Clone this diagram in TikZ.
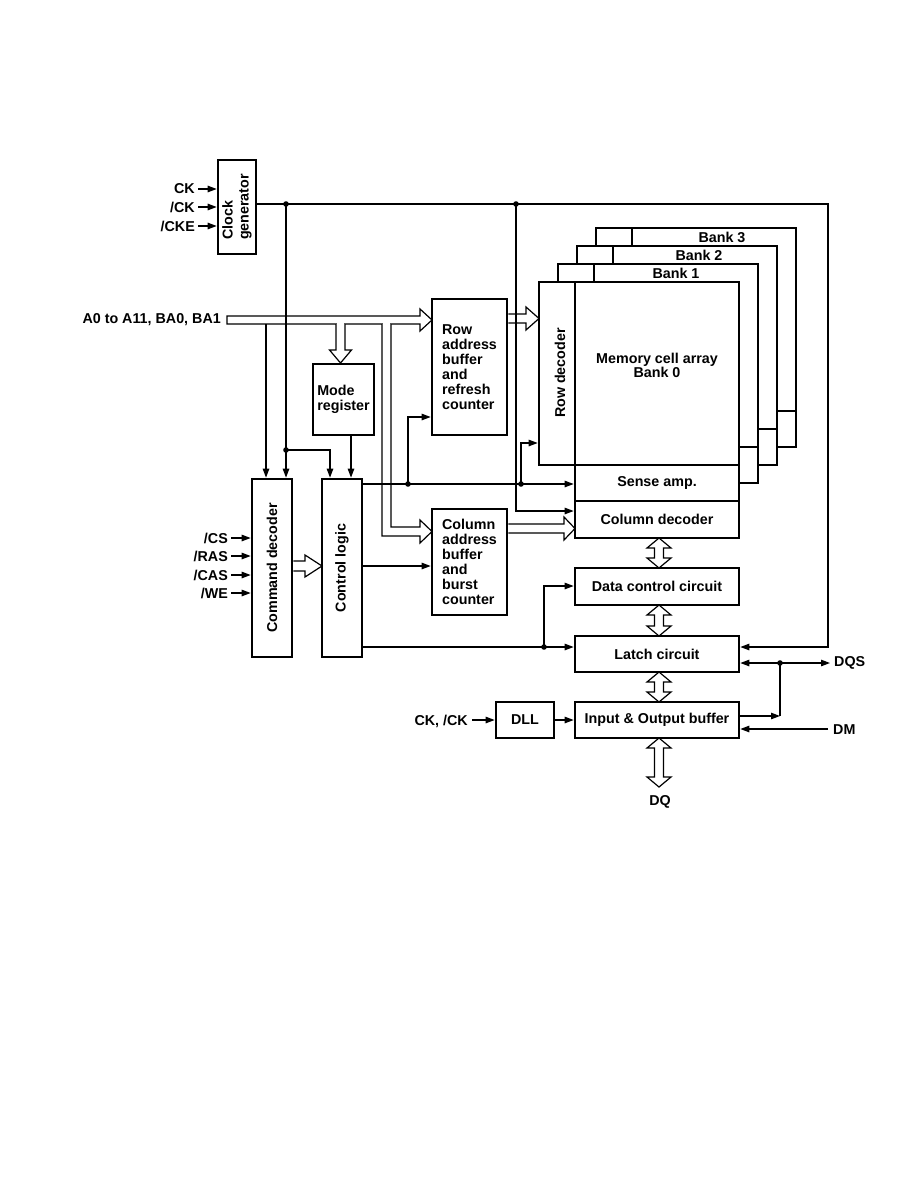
\documentclass[tikz,border=0pt]{standalone}
\usepackage{fontspec}
\setmainfont{Liberation Sans}
\usetikzlibrary{arrows.meta,calc}
\newcommand\dblarrow[3]{\draw[hol] (#1,#2) -- ({#1+12},{#2+10}) -- ({#1+4.5},{#2+10}) -- ({#1+4.5},{#3-10}) -- ({#1+12},{#3-10}) -- (#1,#3) -- ({#1-12},{#3-10}) -- ({#1-4.5},{#3-10}) -- ({#1-4.5},{#2+10}) -- ({#1-12},{#2+10}) -- cycle;}
\begin{document}
\begin{tikzpicture}[x=1pt,y=-1pt,
  box/.style={draw,line width=2.7pt,fill=white,inner sep=0pt},
  lbl/.style={font=\bfseries\fontsize{14.3}{15}\selectfont,inner sep=0pt},
  ln/.style={line width=1.2pt},
  arr/.style={ln,-{Triangle[length=9pt,width=6.5pt]}},
  hol/.style={line width=1.2pt,fill=white,line join=miter},
  bankline/.style={line width=2.7pt,line join=miter}
]
\fill[white] (0,0) rectangle (918,1188);
\useasboundingbox (0,0) rectangle (918,1188);

% ---- back banks (visible outline only) ----
\draw[bankline] (596,246) -- (596,228) -- (796,228) -- (796,447) -- (777,447);
\draw[bankline] (632,228) -- (632,246);
\draw[bankline] (777,411) -- (796,411);
\draw[bankline] (577,264) -- (577,246) -- (777,246) -- (777,465) -- (758,465);
\draw[bankline] (613,246) -- (613,264);
\draw[bankline] (758,429) -- (777,429);
\draw[bankline] (558,282) -- (558,264) -- (758,264) -- (758,483) -- (739,483);
\draw[bankline] (594,264) -- (594,282);
\draw[bankline] (739,447) -- (758,447);
\node[lbl] (b3) at (722,237) {Bank 3};
\node[lbl] (b2) at (699,255) {Bank 2};
\node[lbl] (b1) at (676,273) {Bank 1};

% ---- boxes ----
\node[box,minimum width=38pt,minimum height=94pt] (clk) at (237,207) {};
\node[lbl,rotate=90,align=left,font=\bfseries\fontsize{14.3}{16}\selectfont] (clkt) at (clk.center) {Clock\\generator};
\node[box,minimum width=75pt,minimum height=136pt] (rab) at (469.5,367) {};
\node[lbl,align=left] (rabt) at (rab.center) {Row\\address\\buffer\\and\\refresh\\counter};
\node[box,minimum width=75pt,minimum height=106pt] (cab) at (469.5,562) {};
\node[lbl,align=left] (cabt) at (cab.center) {Column\\address\\buffer\\and\\burst\\counter};
\node[box,minimum width=61pt,minimum height=71pt] (mode) at (343.5,399.5) {};
\node[lbl,align=left] (modet) at (mode.center) {Mode\\register};
\node[box,minimum width=40pt,minimum height=178pt] (cmd) at (272,568) {};
\node[lbl,rotate=90] (cmdt) at (cmd.center) {Command decoder};
\node[box,minimum width=40pt,minimum height=178pt] (ctl) at (342,568) {};
\node[lbl,rotate=90] (ctlt) at (ctl.center) {Control logic};
\node[box,minimum width=36pt,minimum height=183pt] (rowdec) at (557,373.5) {};
\node[lbl,rotate=90] (rowdect) at (560,373) {Row decoder};
\node[box,minimum width=164pt,minimum height=183pt] (arr0) at (657,373.5) {};
\node[lbl,align=center,font=\bfseries\fontsize{14.3}{14}\selectfont] (arr0t) at (657,365) {Memory cell array\\Bank 0};
\node[box,minimum width=164pt,minimum height=36pt] (sense) at (657,483) {};
\node[lbl] (senset) at (sense.center) {Sense amp.};
\node[box,minimum width=164pt,minimum height=37pt] (coldec) at (657,519.5) {};
\node[lbl] (coldect) at (coldec.center) {Column decoder};
\node[box,minimum width=164pt,minimum height=37pt] (dcc) at (657,586.5) {};
\node[lbl] (dcct) at (dcc.center) {Data control circuit};
\node[box,minimum width=164pt,minimum height=36pt] (latch) at (657,654) {};
\node[lbl] (latcht) at (latch.center) {Latch circuit};
\node[box,minimum width=164pt,minimum height=36pt] (io) at (657,720) {};
\node[lbl] (iot) at (io.center) {Input \& Output buffer};
\node[box,minimum width=58pt,minimum height=36pt] (dll) at (525,720) {};
\node[lbl] (dllt) at (dll.center) {DLL};

% ---- hollow (bus) arrows ----
\node[lbl,anchor=east] (addr) at (221,320) {A0 to A11, BA0, BA1};
\draw[hol] (227,316) -- (420,316) -- (420,309) -- (432,320) -- (420,331) -- (420,324) -- (227,324) -- cycle;
\fill[white] (336.7,322) rectangle (344.3,326);
\draw[hol] (336,324) -- (336,350) -- (329.5,350) -- (340.5,363) -- (351.5,350) -- (345,350) -- (345,324);
\fill[white] (382.7,322) rectangle (390.3,326);
\draw[hol] (382,324) -- (382,536) -- (420,536) -- (420,543) -- (432,531.5) -- (420,520) -- (420,527) -- (391,527) -- (391,324);
\draw[hol] (rab.east |- 0,314) -- (526,314) -- (526,307) -- (539,318.5) -- (526,330) -- (526,323) -- (rab.east |- 0,323);
\draw[hol] (cmd.east |- 0,561) -- (305,561) -- (305,555) -- (322,566) -- (305,577) -- (305,571) -- (cmd.east |- 0,571);
\draw[hol] (cab.east |- 0,524) -- (564,524) -- (564,517) -- (575,528.5) -- (564,540) -- (564,533) -- (cab.east |- 0,533);
\dblarrow{659}{538}{568}
\dblarrow{659}{605}{636}
\dblarrow{659}{672}{702}
\dblarrow{659}{738}{787}
\node[lbl] (dq) at (660,802) {DQ};

% ---- inputs ----
\node[lbl,anchor=east] (ck) at (195,189) {CK};
\node[lbl,anchor=east] (nck) at (195,207) {/CK};
\node[lbl,anchor=east] (ncke) at (195,226) {/CKE};
\draw[arr] ([xshift=3pt]ck.east) -- (clk.west |- ck.east);
\draw[arr] ([xshift=3pt]nck.east) -- (clk.west |- nck.east);
\draw[arr] ([xshift=3pt]ncke.east) -- (clk.west |- ncke.east);
\node[lbl,anchor=east] (cs) at (228,538) {/CS};
\node[lbl,anchor=east] (ras) at (228,556) {/RAS};
\node[lbl,anchor=east] (cas) at (228,575) {/CAS};
\node[lbl,anchor=east] (we) at (228,593) {/WE};
\draw[arr] ([xshift=3pt]cs.east) -- (cmd.west |- cs.east);
\draw[arr] ([xshift=3pt]ras.east) -- (cmd.west |- ras.east);
\draw[arr] ([xshift=3pt]cas.east) -- (cmd.west |- cas.east);
\draw[arr] ([xshift=3pt]we.east) -- (cmd.west |- we.east);
\node[lbl,anchor=east] (ckin) at (468,721) {CK, /CK};
\draw[arr] ([xshift=4pt]ckin.east |- 0,720) -- (dll.west);
\draw[arr] (dll.east) -- (io.west);

% ---- connectors ----
\coordinate (d1) at (286,204);
\coordinate (d2) at (516,204);
\coordinate (d3) at (286,450);
\coordinate (d4) at (408,484);
\coordinate (d5) at (521,484);
\coordinate (d6) at (544,647);
\coordinate (d7) at (780,663);
\draw[arr] (clk.east |- 0,204) -- (828,204) -- (828,647) -- (latch.east |- 0,647);
\draw[arr] (d1) -- (cmd.north -| d1);
\draw[arr] (d3) -- (330,450) -- (ctl.north -| 330,0);
\draw[arr] (266,324) -- (cmd.north -| 266,0);
\draw[arr] (mode.south -| 351,0) -- (ctl.north -| 351,0);
\draw[arr] (d2) -- (516,511) -- (coldec.west |- 0,511);
\draw[arr] (ctl.east |- 0,484) -- (sense.west |- 0,484);
\draw[arr] (d4) -- (408,417) -- (rab.west |- 0,417);
\draw[arr] (d5) -- (521,443) -- (rowdec.west |- 0,443);
\draw[arr] (ctl.east |- 0,566) -- (cab.west |- 0,566);
\draw[arr] (ctl.east |- 0,647) -- (latch.west |- 0,647);
\draw[arr] (d6) -- (544,586) -- (dcc.west |- 0,586);
\draw[arr] (d7) -- (latch.east |- 0,663);
\draw[arr] (d7) -- (830,663);
\node[lbl,anchor=west] (dqs) at (834,663) {DQS};
\draw[arr] (io.east |- 0,716) -- (780,716);
\draw[ln] (780,716) -- (d7);
\node[lbl,anchor=west] (dm) at (833,730) {DM};
\draw[arr] (828,729) -- (io.east |- 0,729);

\foreach \d in {d1,d2,d3,d4,d5,d6,d7} \fill (\d) circle (2.8);
\end{tikzpicture}
\end{document}
